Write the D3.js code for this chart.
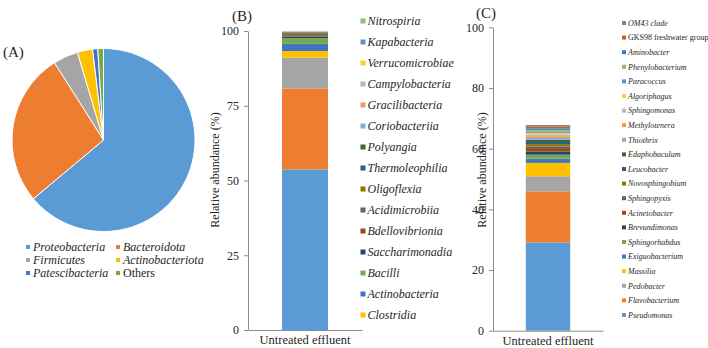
<!DOCTYPE html>
<html>
<head>
<meta charset="utf-8">
<script src="https://cdn.jsdelivr.net/npm/d3@7"></script>
<style>
  body { margin: 0; background: #fff; }
  svg text { font-family: "Liberation Serif", Tinos, "Times New Roman", "DejaVu Serif", serif !important; fill: #262626; }
  .ital { font-style: italic; }
</style>
</head>
<body>
<svg id="svg" width="708" height="348" font-family="Liberation Serif"></svg>
<script>
'use strict';

// (A) phylum level
var pieLabels = ['Proteobacteria', 'Bacteroidota', 'Firmicutes', 'Actinobacteriota', 'Patescibacteria', 'Others'];
var pieValues = [63.9, 27.1, 4.4, 2.7, 0.9, 1.0];

// (B) class level, bottom of the stack first
var classNames = ['Gammaproteobacteria', 'Bacteroidia', 'Alphaproteobacteria', 'Clostridia', 'Actinobacteria',
  'Bacilli', 'Saccharimonadia', 'Bdellovibrionia', 'Acidimicrobiia', 'Oligoflexia', 'Thermoleophilia',
  'Polyangia', 'Coriobacteriia', 'Gracilibacteria', 'Campylobacteria', 'Verrucomicrobiae', 'Kapabacteria', 'Nitrospiria'];
var classValues = [53.7, 27.1, 10.3, 2.2, 2.4, 1.88, 0.6, 0.4, 0.4, 0.3, 0.2, 0.15, 0.1, 0.08, 0.06, 0.05, 0.04, 0.04];
var classTicks = [0, 25, 50, 75, 100];

// (C) genus level, bottom of the stack first
var genusNames = ['Pseudomonas', 'Flavobacterium', 'Pedobacter', 'Massilia', 'Exiguobacterium', 'Sphingorhabdus',
  'Brevundimonas', 'Acinetobacter', 'Sphingopyxis', 'Novosphingobium', 'Leucobacter', 'Edaphobaculum',
  'Thiothrix', 'Methylotenera', 'Sphingomonas', 'Algoriphagus', 'Paracoccus', 'Phenylobacterium',
  'Aminobacter', 'GKS98 freshwater group', 'OM43 clade'];
var genusValues = [29.1, 16.8, 5.0, 4.4, 1.4, 1.3, 1.0, 0.9, 0.8, 0.8, 0.7, 0.7, 0.6, 0.6, 0.6, 0.5, 0.5, 0.5, 0.5, 0.5, 0.6];
var genusTicks = [0, 20, 40, 60, 80, 100];

var sample = ['Untreated effluent'];

var palette = ['#5B9BD5', '#ED7D31', '#A5A5A5', '#FFC000', '#4472C4', '#70AD47',
  '#264478', '#9E480E', '#636363', '#997300', '#255E91', '#43682B',
  '#7CAFDD', '#F1975A', '#B7B7B7', '#FFCD33', '#698ED0', '#8CC168',
  '#327DC2', '#D26012', '#848484'];

var svg = d3.select('#svg');

// ---- panel A: pie ----
svg.append('text').attr('x', 3).attr('y', 57).attr('font-size', 15).text('(A)');

var pie = d3.pie().sort(null).value(function(d) { return d; });
var arc = d3.arc().innerRadius(0).outerRadius(91.5);
var gPie = svg.append('g').attr('transform', 'translate(103.5,140)');
gPie.selectAll('path')
    .data(pie(pieValues))
  .enter().append('path')
    .attr('d', arc)
    .attr('fill', function(d, i) { return palette[i]; })
    .attr('stroke', '#fff')
    .attr('stroke-width', 1);

var pieLeg = svg.append('g').selectAll('g')
    .data(pieLabels)
  .enter().append('g')
    .attr('transform', function(d, i) {
      return 'translate(' + (i % 2 ? 118 : 28) + ',' + [247, 260, 273][Math.floor(i / 2)] + ')';
    });
pieLeg.append('rect').attr('x', -2).attr('y', -2).attr('width', 4).attr('height', 4)
    .attr('fill', function(d, i) { return palette[i]; });
pieLeg.append('text').attr('x', 5).attr('dy', '0.35em').attr('font-size', 12)
    .attr('class', function(d) { return d === 'Others' ? '' : 'ital'; })
    .text(function(d) { return d; });

// ---- stacked bar helper ----
function stackedBar(opt) {
  var y = d3.scaleLinear().domain([0, 100]).range([opt.y0, opt.y1]);
  var x = d3.scaleBand().domain(sample).range([opt.x0, opt.x1]).paddingOuter(0.74);
  var g = svg.append('g');

  var acc = 0;
  var segs = opt.values.map(function(v, i) {
    var s = {lo: acc, hi: acc + v, i: i};
    acc += v;
    return s;
  });
  g.selectAll('rect.seg')
      .data(segs)
    .enter().append('rect')
      .attr('class', 'seg')
      .attr('x', x(sample[0]))
      .attr('width', x.bandwidth())
      .attr('y', function(d) { return y(d.hi); })
      .attr('height', function(d) { return y(d.lo) - y(d.hi); })
      .attr('fill', function(d) { return palette[d.i]; });

  var ya = g.append('g').attr('transform', 'translate(' + opt.x0 + ',0)')
      .call(d3.axisLeft(y).tickValues(opt.ticks).tickSize(4).tickSizeOuter(0).tickPadding(5));
  ya.attr('font-family', null);
  ya.selectAll('text').attr('font-size', 12);
  ya.selectAll('line,path').attr('stroke', '#8c8c8c');

  var xa = g.append('g').attr('transform', 'translate(0,' + opt.y0 + ')')
      .call(d3.axisBottom(x).tickSize(0).tickSizeOuter(0).tickPadding(5));
  xa.attr('font-family', null);
  xa.selectAll('text').attr('font-size', 12.5);
  xa.select('path').attr('stroke', '#8c8c8c');

  g.append('text')
      .attr('transform', 'translate(' + opt.titleX + ',' + opt.titleY + ') rotate(-90)')
      .attr('text-anchor', 'middle').attr('font-size', 12)
      .text('Relative abundance (%)');

  svg.append('text').attr('x', opt.labX).attr('y', opt.labY).attr('font-size', 15).text(opt.label);

  var leg = svg.append('g').selectAll('g')
      .data(opt.legend)
    .enter().append('g')
      .attr('transform', function(d, k) { return 'translate(' + opt.legX + ',' + (opt.legY + k * opt.legStep) + ')'; });
  leg.append('rect')
      .attr('x', -opt.mark / 2).attr('y', -opt.mark / 2)
      .attr('width', opt.mark).attr('height', opt.mark)
      .attr('fill', function(d) { return palette[opt.names.indexOf(d)]; });
  leg.append('text')
      .attr('x', opt.mark / 2 + 2).attr('dy', '0.35em').attr('font-size', opt.legFont)
      .attr('class', function(d) { return d.indexOf('GKS98') === 0 ? '' : 'ital'; })
      .text(function(d) { return d; });
}

// ---- panel B ----
stackedBar({
  names: classNames, values: classValues, ticks: classTicks,
  legend: classNames.slice(3).reverse(),
  x0: 248, x1: 362, y0: 330, y1: 31,
  titleX: 219, titleY: 170, label: '(B)', labX: 232, labY: 21,
  legX: 363, legY: 21, legStep: 21, mark: 5, legFont: 12
});

// ---- panel C ----
stackedBar({
  names: genusNames, values: genusValues, ticks: genusTicks,
  legend: genusNames.slice().reverse(),
  x0: 493, x1: 603, y0: 330.7, y1: 27.3,
  titleX: 486, titleY: 170, label: '(C)', labX: 476, labY: 18,
  legX: 624, legY: 23, legStep: 14.6, mark: 4, legFont: 8
});
</script>
</body>
</html>
